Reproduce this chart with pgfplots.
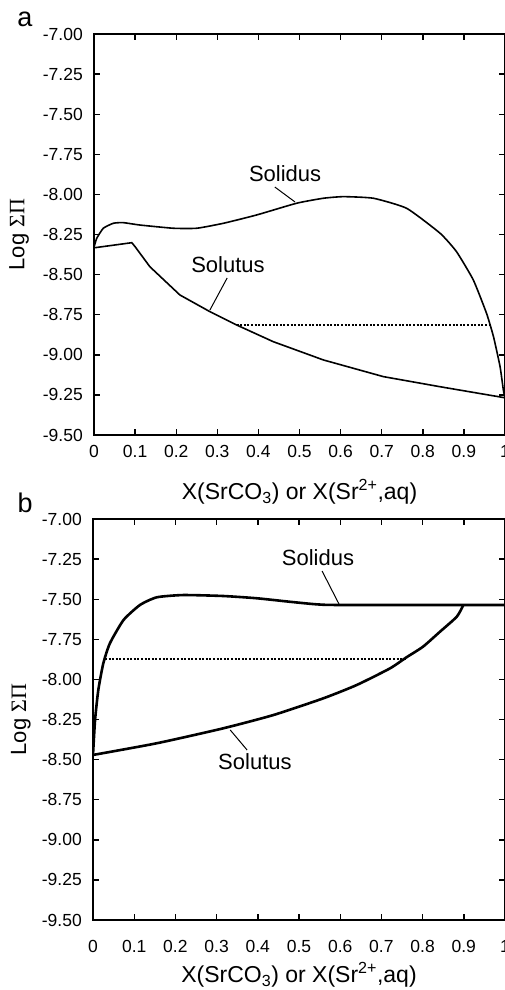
\documentclass[border=0pt]{standalone}
\usepackage{fontspec}
\setmainfont{Liberation Sans}
\newfontfamily\greekfont{Liberation Serif}
\usepackage{pgfplots}
\usepackage{pgfplotstable}
\pgfplotsset{compat=1.18}

% panel a
\pgfplotstableread{
x y
0 -8.330
0.0066 -8.274
0.0226 -8.211
0.047 -8.180
0.071 -8.176
0.112 -8.191
0.193 -8.211
0.250 -8.211
0.315 -8.180
0.396 -8.128
0.493 -8.055
0.558 -8.024
0.607 -8.014
0.680 -8.024
0.761 -8.087
0.842 -8.242
0.882 -8.357
0.923 -8.534
0.955 -8.741
0.972 -8.887
0.988 -9.074
0.996 -9.220
1.000 -9.268
}\solidusA
\pgfplotstableread{
x y
0 -8.333
0.092 -8.301
0.100 -8.326
0.136 -8.451
0.209 -8.627
0.282 -8.731
0.347 -8.814
0.436 -8.918
0.558 -9.032
0.704 -9.136
0.842 -9.199
1.000 -9.268
}\solutusA
% panel b
\pgfplotstableread{
x y
0 -8.471
0.005 -8.253
0.0129 -8.066
0.025 -7.900
0.041 -7.775
0.074 -7.630
0.114 -7.536
0.155 -7.488
0.219 -7.474
0.316 -7.480
0.397 -7.494
0.478 -7.516
0.543 -7.532
0.600 -7.536
1.000 -7.536
}\solidusB
\pgfplotstableread{
x y
0 -8.471
0.155 -8.398
0.316 -8.305
0.438 -8.222
0.559 -8.118
0.640 -8.035
0.721 -7.931
0.761 -7.862
0.801 -7.796
0.842 -7.703
0.883 -7.609
0.899 -7.536
}\solutusB

\tikzset{lbl/.style={font=\fontsize{22}{26}\selectfont, inner sep=0pt}}
\pgfplotsset{
  panel/.style={
    scale only axis, width=411pt, height=401pt,
    xmin=0, xmax=1, ymin=-9.5, ymax=-7,
    clip mode=individual,
    xtick={0,0.1,0.2,0.3,0.4,0.5,0.6,0.7,0.8,0.9,1},
    xticklabels={0,0.1,0.2,0.3,0.4,0.5,0.6,0.7,0.8,0.9,1},
    ytick={-9.5,-9.25,-9,-8.75,-8.5,-8.25,-8,-7.75,-7.5,-7.25,-7},
    yticklabels={-9.50,-9.25,-9.00,-8.75,-8.50,-8.25,-8.00,-7.75,-7.50,-7.25,-7.00},
    tick align=inside, major tick length=6pt,
    tick style={line width=1.4pt, black},
    axis line style={line width=2pt},
    every tick label/.append style={inner sep=0pt, font=\fontsize{17.5}{20}\selectfont},
    yticklabel shift=11pt,
    xlabel={X(SrCO\textsubscript{3}) or X(Sr\textsuperscript{2+},aq)},
    ylabel={Log {\greekfont ΣΠ}},
    every axis x label/.style={at={(axis description cs:0.5,-0.162)}, anchor=base,
      font=\fontsize{23}{27}\selectfont},
    every axis y label/.style={at={(axis description cs:-0.182,0.5)}, rotate=90,
      anchor=center, font=\fontsize{22}{26}\selectfont},
  },
}

\begin{document}
\begin{tikzpicture}
\begin{axis}[panel, at={(94pt,-435pt)}, anchor=south west, xticklabel shift=10pt]
\addplot[black, line width=1.6pt, smooth, tension=0.3] table[x=x,y=y] {\solidusA};
\addplot[black, line width=1.6pt] table[x=x,y=y] {\solutusA};
\addplot[black, line width=2pt, dash pattern=on 2pt off 1.6pt] coordinates {(0.347,-8.814) (0.962,-8.814)};
\node[lbl] at (axis cs:0.465,-7.873) {Solidus};
\draw[line width=1pt] (axis cs:0.440,-7.954) -- (axis cs:0.489,-8.047);
\node[lbl] at (axis cs:0.326,-8.44) {Solutus};
\draw[line width=1pt] (axis cs:0.324,-8.521) -- (axis cs:0.282,-8.721);
\node[font=\fontsize{27}{30}\selectfont, anchor=base, inner sep=0pt] at (axis description cs:-0.168,1.0175) {a};
\end{axis}
\begin{axis}[panel, at={(93pt,-920pt)}, anchor=south west, width=412pt, xticklabel shift=20pt,
  every axis x label/.style={at={(axis description cs:0.5,-0.156)}, anchor=base,
      font=\fontsize{23}{27}\selectfont},
  every axis y label/.style={at={(axis description cs:-0.175,0.5)}, rotate=90,
      anchor=center, font=\fontsize{22}{26}\selectfont}]
\addplot[black, line width=2.6pt, smooth, tension=0.35] table[x=x,y=y] {\solidusB};
\addplot[black, line width=2.6pt, smooth, tension=0.35] table[x=x,y=y] {\solutusB};
\addplot[black, line width=2pt, dash pattern=on 2pt off 1.6pt] coordinates {(0.029,-7.874) (0.761,-7.874)};
\node[lbl] at (axis cs:0.546,-7.243) {Solidus};
\draw[line width=1pt] (axis cs:0.556,-7.324) -- (axis cs:0.597,-7.530);
\node[lbl] at (axis cs:0.393,-8.515) {Solutus};
\draw[line width=1pt] (axis cs:0.374,-8.440) -- (axis cs:0.333,-8.315);
\node[font=\fontsize{27}{30}\selectfont, anchor=base, inner sep=0pt] at (axis description cs:-0.165,1.015) {b};
\end{axis}
\pgfresetboundingbox
\path[use as bounding box] (0,0) rectangle (504pt,-990pt);
\end{tikzpicture}
\end{document}
